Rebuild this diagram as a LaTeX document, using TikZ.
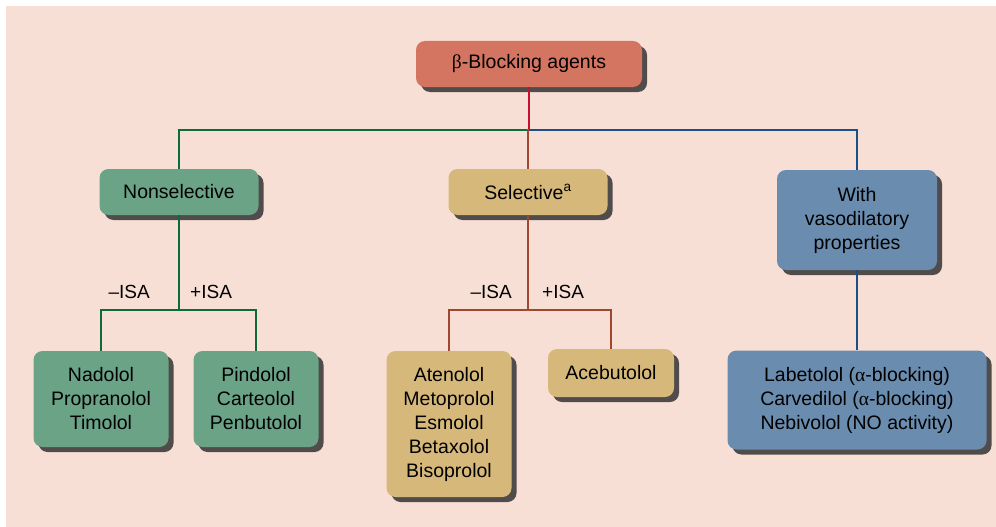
\documentclass[tikz,border=0pt]{standalone}
\usepackage{fontspec}
\setmainfont{Liberation Sans}
\newfontfamily\grk{Liberation Serif}
\usepackage{tikz}
\usetikzlibrary{shapes,shadows,positioning,calc}

\definecolor{bgpink}{HTML}{F8DFD6}
\definecolor{topred}{HTML}{D47562}
\definecolor{nsgreen}{HTML}{6BA386}
\definecolor{seltan}{HTML}{D6B97A}
\definecolor{vasblue}{HTML}{6A8CAE}
\definecolor{lgreen}{HTML}{0B6B3A}
\definecolor{lred}{HTML}{C8102E}
\definecolor{lbrown}{HTML}{A0482E}
\definecolor{lblue}{HTML}{1A4F8A}

\newcommand{\grbeta}{{\grk β}}
\newcommand{\gralpha}{{\grk α}}

\begin{document}
\begin{tikzpicture}[
    x=1pt, y=-1pt,
    box/.style={rectangle, rounded corners=9pt, align=center, inner sep=0pt, font=\fontsize{19.5}{24}\selectfont,
      drop shadow={shadow xshift=5pt, shadow yshift=-5pt, fill=black!80, opacity=0.85}},
    topbox/.style={box, fill=topred},
    nsbox/.style={box, fill=nsgreen},
    selbox/.style={box, fill=seltan},
    vasbox/.style={box, fill=vasblue},
    link/.style={line width=1.2pt},
    isa/.style={inner sep=0pt, font=\fontsize{19}{22}\selectfont}
]

% Background
\useasboundingbox (0,0) rectangle (996,527);
\fill[bgpink] (6,6) rectangle (996,527);

% Top level
\node[topbox, minimum width=226pt, minimum height=46pt] (top) at (529,64) {\grbeta-Blocking agents};

% Classes
\node[nsbox, minimum width=159pt, minimum height=46pt] (nonsel) at (179,192) {Nonselective};
\node[selbox, minimum width=159pt, minimum height=46pt] (sel) at (528,192) {Selective\textsuperscript{a}};
\node[vasbox, minimum width=160pt, minimum height=100pt] (vaso) at (857,220) {With\\vasodilatory\\properties};

% Drugs
\node[nsbox, minimum width=135pt, minimum height=96pt] (nad) at (101,399) {Nadolol\\Propranolol\\Timolol};
\node[nsbox, minimum width=125pt, minimum height=96pt] (pin) at (256,399) {Pindolol\\Carteolol\\Penbutolol};
\node[selbox, minimum width=125pt, minimum height=146pt] (ate) at (449,424) {Atenolol\\Metoprolol\\Esmolol\\Betaxolol\\Bisoprolol};
\node[selbox, minimum width=126pt, minimum height=48pt] (ace) at (611,373) {Acebutolol};
\node[vasbox, minimum width=259pt, minimum height=99pt] (lab) at (857,400) {Labetolol (\gralpha-blocking)\\Carvedilol (\gralpha-blocking)\\Nebivolol (NO activity)};

% Junctions
\coordinate (hub) at (529,130);
\coordinate (nsfork) at (179,310);
\coordinate (selfork) at (528,310);

% Connectors
\draw[link, lred] (top) -- (hub);
\draw[link, lgreen] (hub) -| (nonsel);
\draw[link, lblue] (hub) -| (vaso);
\draw[link, lbrown] (hub) -| (sel);

\draw[link, lgreen] (nonsel) -- (nsfork);
\draw[link, lgreen] (nsfork) -| (nad);
\draw[link, lgreen] (nsfork) -| (pin);

\draw[link, lbrown] (sel) -- (selfork);
\draw[link, lbrown] (selfork) -| (ate);
\draw[link, lbrown] (selfork) -| (ace);

\draw[link, lblue] (vaso) -- (lab);

% ISA labels
\node[isa, above left=11pt and 29pt of nsfork] (nsminus) {\textendash ISA};
\node[isa, above right=11pt and 11pt of nsfork] (nsplus) {+ISA};
\node[isa, above left=11pt and 16pt of selfork] (selminus) {\textendash ISA};
\node[isa, above right=11pt and 14pt of selfork] (selplus) {+ISA};

\end{tikzpicture}
\end{document}
